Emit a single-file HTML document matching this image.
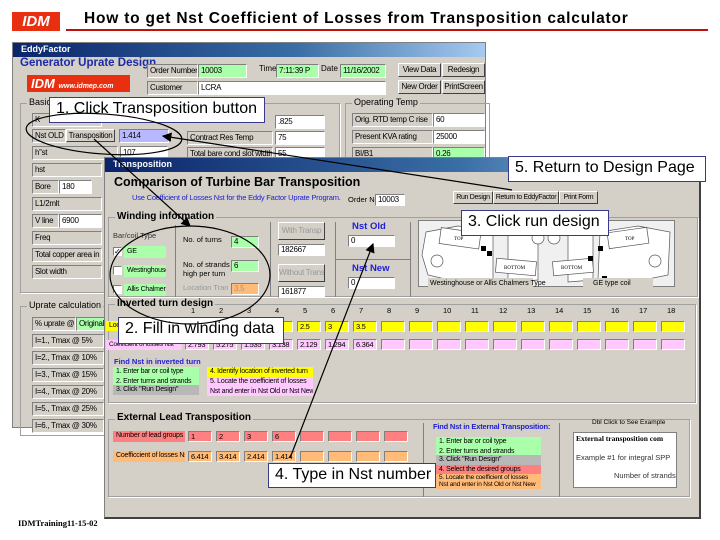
<!DOCTYPE html>
<html><head><meta charset="utf-8"><style>
*{box-sizing:border-box;margin:0;padding:0}
body{width:720px;height:540px;background:#fff;position:relative;overflow:hidden;font-family:"Liberation Sans",sans-serif;}
.a{position:absolute;white-space:nowrap}
.win{position:absolute;background:#d4d0c8;border:1px solid #808080}
.tb{position:absolute;left:0;right:0;top:0;height:14px;background:linear-gradient(90deg,#0a246a,#3a6ea5 60%,#a6caf0);color:#fff;font-size:9px;font-weight:bold;padding:1px 0 0 8px}
.f{position:absolute;font-size:8px;letter-spacing:-0.3px;line-height:12px;height:14px;padding-left:2px;border:1px solid;border-color:#808080 #fff #fff #808080;background:#fff;white-space:nowrap;overflow:hidden;color:#000}
.l{background:#d4d0c8}
.g{background:#aaffaa}
.p{background:#ffc8ff}
.y{background:#ffff00}
.o{background:#ffbb77}
.r{background:#ff8080}
.v{background:#b8b8ff}
.btn{position:absolute;font-size:8px;letter-spacing:-0.3px;line-height:11px;text-align:center;border:1px solid;border-color:#fff #404040 #404040 #fff;background:#d4d0c8;white-space:nowrap;overflow:hidden}
.grp{position:absolute;border:1px solid #a0a0a0;box-shadow:1px 1px 0 #fff}
.gl{position:absolute;top:-7px;left:6px;background:#d4d0c8;font-size:9px;padding:0 2px;color:#000}
.co{position:absolute;background:#fff;border:1px solid #3a3a8a;font-size:16px;padding:2px 6px;white-space:nowrap;color:#000}
.s{font-size:7px;letter-spacing:-0.2px;line-height:9.5px;padding-left:3px;position:absolute;white-space:nowrap;overflow:hidden}
</style></head><body>
<div class="a" style="left:12px;top:12px;width:48px;height:19px;background:#e83010;color:#fff;font:italic bold 15px 'Liberation Sans',sans-serif;text-align:center;line-height:19px">IDM</div>
<div class="a" style="left:84px;top:10px;font-size:15.5px;letter-spacing:0.8px;font-weight:bold">How to get Nst Coefficient of Losses from Transposition calculator</div>
<div class="a" style="left:66px;top:29px;width:642px;height:2px;background:#c01010"></div>

<!-- Eddy window -->
<div class="win" style="left:12px;top:42px;width:474px;height:386px">
<div class="tb">EddyFactor</div>
</div>
<div class="a" style="left:20px;top:57px;font-size:11.5px;font-weight:bold;color:#1a2aa8">Generator Uprate Design</div>
<div class="a" style="left:27px;top:75px;width:103px;height:17px;background:#e83010;color:#fff;font:italic bold 13px 'Liberation Sans';padding-left:4px;line-height:17px">IDM <span style="font-size:7px">www.idmep.com</span></div>
<div class="f l" style="left:147px;top:64px;width:51px">Order Number</div>
<div class="f g" style="left:198px;top:64px;width:49px">10003</div>
<div class="a" style="left:259px;top:64px;font-size:8px">Time</div>
<div class="f g" style="left:276px;top:64px;width:43px">7:11:39 P</div>
<div class="a" style="left:321px;top:64px;font-size:8px">Date</div>
<div class="f g" style="left:340px;top:64px;width:46px">11/16/2002</div>
<div class="f l" style="left:147px;top:81px;width:51px">Customer</div>
<div class="f" style="left:198px;top:81px;width:188px">LCRA</div>
<div class="btn" style="left:398px;top:63px;width:43px;height:14px">View Data</div>
<div class="btn" style="left:442px;top:63px;width:43px;height:14px">Redesign</div>
<div class="btn" style="left:398px;top:80px;width:43px;height:14px">New Order</div>
<div class="btn" style="left:442px;top:80px;width:43px;height:14px">PrintScreen</div>
<div class="grp" style="left:20px;top:103px;width:320px;height:190px"><div class="gl">Basic D</div></div>
<div class="grp" style="left:345px;top:103px;width:145px;height:60px"><div class="gl">Operating Temp</div></div>
<div class="f l" style="left:32px;top:113px;width:70px">K</div>
<div class="f l" style="left:32px;top:129px;width:34px">Nst OLD</div>
<div class="btn" style="left:66px;top:129px;width:49px;height:13px">Transposition</div>
<div class="f v" style="left:119px;top:129px;width:50px">1.414</div>
<div class="f l" style="left:32px;top:146px;width:86px">h''st</div>
<div class="f" style="left:120px;top:146px;width:48px">107</div>
<div class="f l" style="left:32px;top:163px;width:70px">hst</div>
<div class="f l" style="left:32px;top:180px;width:27px">Bore</div>
<div class="f" style="left:59px;top:180px;width:33px">180</div>
<div class="f l" style="left:32px;top:197px;width:70px">L1/2mlt</div>
<div class="f l" style="left:32px;top:214px;width:27px">V line</div>
<div class="f" style="left:59px;top:214px;width:43px">6900</div>
<div class="f l" style="left:32px;top:231px;width:70px">Freq</div>
<div class="f l" style="left:32px;top:248px;width:70px">Total copper area in</div>
<div class="f l" style="left:32px;top:265px;width:70px">Slot width</div>
<div class="f" style="left:275px;top:115px;width:50px">.825</div>
<div class="f l" style="left:187px;top:131px;width:86px">Contract Res Temp</div>
<div class="f" style="left:275px;top:131px;width:50px">75</div>
<div class="f l" style="left:187px;top:147px;width:86px">Total bare cond slot width</div>
<div class="f" style="left:275px;top:147px;width:50px">55</div>
<div class="f l" style="left:352px;top:113px;width:81px">Orig. RTD temp C rise</div>
<div class="f" style="left:433px;top:113px;width:52px">60</div>
<div class="f l" style="left:352px;top:130px;width:81px">Present KVA rating</div>
<div class="f" style="left:433px;top:130px;width:52px">25000</div>
<div class="f l" style="left:352px;top:147px;width:81px">BI/B1</div>
<div class="f g" style="left:433px;top:147px;width:52px">0.26</div>
<div class="grp" style="left:20px;top:306px;width:100px;height:130px"><div class="gl">Uprate calculation</div></div>
<div class="f l" style="left:32px;top:317px;width:44px">% uprate @</div>
<div class="f g" style="left:76px;top:317px;width:30px">Original</div>
<div class="f l" style="left:32px;top:334px;width:72px">I=1., Tmax @ 5%</div>
<div class="f l" style="left:32px;top:351px;width:72px">I=2., Tmax @ 10%</div>
<div class="f l" style="left:32px;top:368px;width:72px">I=3., Tmax @ 15%</div>
<div class="f l" style="left:32px;top:385px;width:72px">I=4., Tmax @ 20%</div>
<div class="f l" style="left:32px;top:402px;width:72px">I=5., Tmax @ 25%</div>
<div class="f l" style="left:32px;top:419px;width:72px">I=6., Tmax @ 30%</div>
<div class="co" style="left:49px;top:97px;width:216px;height:26px">1. Click Transposition button</div>

<!-- Transposition window -->
<div class="win" style="left:104px;top:157px;width:597px;height:362px;border-right:2px solid #404040;border-bottom:2px solid #404040">
<div class="tb">Transposition</div>
</div>
<div class="a" style="left:114px;top:175px;font-size:12.5px;font-weight:bold">Comparison of Turbine Bar Transposition</div>
<div class="a" style="left:132px;top:193px;font-size:7.5px;letter-spacing:-0.2px;color:#2020d0">Use Coefficient of Losses Nst for the Eddy Factor Uprate Program.</div>
<div class="a" style="left:348px;top:195px;font-size:7.5px">Order No</div>
<div class="f" style="left:375px;top:194px;width:30px;height:12px;line-height:10px">10003</div>
<div class="btn" style="left:453px;top:191px;width:40px;height:13px;font-size:7px">Run Design</div>
<div class="btn" style="left:493px;top:191px;width:66px;height:13px;font-size:7px">Return to EddyFactor</div>
<div class="btn" style="left:559px;top:191px;width:39px;height:13px;font-size:7px">Print Form</div>
<div class="grp" style="left:108px;top:217px;width:590px;height:80px"><div class="gl" style="font-weight:bold;font-size:10px">Winding information</div></div>
<div class="a" style="left:175px;top:225px;width:1px;height:72px;background:#808080"></div>
<div class="a" style="left:270px;top:222px;width:1px;height:75px;background:#808080"></div>
<div class="a" style="left:335px;top:222px;width:1px;height:75px;background:#808080"></div>
<div class="a" style="left:410px;top:222px;width:1px;height:75px;background:#808080"></div>
<div class="a" style="left:335px;top:259px;width:75px;height:1px;background:#808080"></div>
<div class="a" style="left:113px;top:231px;font-size:7.5px;color:#333">Bar/coil Type</div>
<div class="f" style="left:113px;top:247px;width:9px;height:9px;padding:0;font-size:8px;line-height:7px">✓</div>
<div class="s g" style="left:124px;top:246px;width:42px;height:12px;line-height:12px">GE</div>
<div class="f" style="left:113px;top:266px;width:9px;height:9px;padding:0"></div>
<div class="s g" style="left:124px;top:265px;width:42px;height:12px;line-height:12px">Westinghouse</div>
<div class="f" style="left:113px;top:285px;width:9px;height:9px;padding:0"></div>
<div class="s g" style="left:124px;top:284px;width:42px;height:12px;line-height:12px">Allis Chalmers</div>
<div class="a" style="left:183px;top:235px;font-size:7.5px">No. of turns</div>
<div class="f g" style="left:231px;top:236px;width:28px;height:12px;line-height:10px">4</div>
<div class="a" style="left:183px;top:260px;font-size:7.5px;line-height:9px">No. of strands<br>high per turn</div>
<div class="f g" style="left:231px;top:260px;width:28px;height:12px;line-height:10px">6</div>
<div class="a" style="left:183px;top:283px;font-size:7.5px;color:#999">Location Tran</div>
<div class="f o" style="left:231px;top:283px;width:28px;height:12px;line-height:10px;color:#999">3.5</div>
<div class="btn" style="left:278px;top:222px;width:47px;height:18px;line-height:16px;color:#999">With Transp</div>
<div class="f" style="left:278px;top:244px;width:47px;height:12px;line-height:10px">182667</div>
<div class="btn" style="left:278px;top:264px;width:47px;height:18px;line-height:16px;color:#999">Without Transp</div>
<div class="f" style="left:278px;top:286px;width:47px;height:12px;line-height:10px">161877</div>
<div class="a" style="left:352px;top:221px;font-size:9.5px;font-weight:bold;color:#2020d0">Nst Old</div>
<div class="f" style="left:348px;top:235px;width:47px;height:12px;line-height:10px">0</div>
<div class="a" style="left:352px;top:263px;font-size:9.5px;font-weight:bold;color:#2020d0">Nst New</div>
<div class="f" style="left:348px;top:277px;width:47px;height:12px;line-height:10px">0</div>
<div class="a" style="left:418px;top:220px;width:257px;height:67px;background:#f0f0f0;border:1px solid #808080"></div>
<svg class="a" style="left:418px;top:220px" width="257" height="67">
<g fill="#fff" stroke="#555" stroke-width="0.7">
<path d="M8 12 L40 6 L75 10 L75 60 L40 62 L10 55 L4 35Z"/>
<path d="M182 12 L220 6 L252 12 L250 55 L215 62 L180 60Z"/>
<path d="M90 10 L120 8 L120 60 L90 62Z"/>
<path d="M150 10 L175 8 L175 60 L150 62Z"/>
<rect x="22" y="10" width="40" height="16" transform="rotate(8 40 18)"/>
<rect x="78" y="40" width="40" height="14" transform="rotate(5 98 47)"/>
<rect x="135" y="40" width="40" height="14" transform="rotate(-5 155 47)"/>
<rect x="190" y="10" width="40" height="16" transform="rotate(-8 210 18)"/>
<circle cx="19" cy="41" r="6"/><circle cx="120" cy="18" r="6"/><circle cx="136" cy="18" r="6"/><circle cx="237" cy="41" r="6"/></g>
<g fill="#000" font-size="5" font-family="Liberation Serif"><text x="36" y="20">TOP</text><text x="86" y="49">BOTTOM</text><text x="143" y="49">BOTTOM</text><text x="207" y="20">TOP</text></g>
<g fill="#000"><rect x="63" y="26" width="5" height="5"/><rect x="56" y="58" width="5" height="5"/><rect x="69" y="31" width="5" height="5"/><rect x="170" y="36" width="5" height="5"/><rect x="180" y="26" width="5" height="5"/><rect x="184" y="56" width="5" height="5"/></g>
<rect x="10" y="58" width="105" height="9" fill="#d4d0c8"/><rect x="165" y="58" width="70" height="9" fill="#d4d0c8"/>
<text x="12" y="65" font-size="7" font-family="Liberation Sans">Westinghouse or Allis Chalmers Type</text>
<text x="175" y="65" font-size="7" font-family="Liberation Sans">GE type coil</text>
</svg>
<div class="co" style="left:461px;top:210px;width:148px;height:26px">3. Click run design</div>
<div class="co" style="left:508px;top:156px;width:198px;height:26px">5. Return to Design Page</div>

<div class="grp" style="left:108px;top:304px;width:588px;height:99px"><div class="gl" style="font-weight:bold;font-size:10px">Inverted turn design</div></div>
<div class="s y" style="left:106px;top:321px;width:40px;height:10px">Loc</div>
<div class="s p" style="left:106px;top:340px;width:76px;height:10px;font-size:6.5px">Coefficient of losses Nst</div>
<div id="cols"></div>
<div class="a" style="left:114px;top:357px;font-size:7.5px;font-weight:bold;color:#2020d0">Find Nst in inverted turn</div>
<div class="s g" style="left:113px;top:367px;width:86px;height:18px">1. Enter bar or coil type<br>2. Enter turns and strands</div>
<div class="s" style="left:113px;top:385px;width:86px;height:10px;background:#b8b8b8">3. Click "Run Design"</div>
<div class="s y" style="left:207px;top:367px;width:106px;height:10px">4. Identify location of inverted turn</div>
<div class="s p" style="left:207px;top:377px;width:106px;height:19px">5. Locate the coefficient of losses<br>Nst and enter in Nst Old or Nst New</div>
<div class="co" style="left:118px;top:317px;width:166px;height:27px">2. Fill in winding data</div>

<div class="grp" style="left:108px;top:419px;width:582px;height:78px"><div class="gl" style="font-weight:bold;font-size:10px;top:-8px">External Lead Transposition</div></div>
<div class="s r" style="left:113px;top:431px;width:72px;height:11px">Number of lead groups</div>
<div class="s o" style="left:113px;top:451px;width:72px;height:11px">Coefficcient of losses Nst</div>
<div class="a" style="left:423px;top:423px;width:1px;height:74px;background:#808080"></div>
<div class="a" style="left:559px;top:423px;width:1px;height:74px;background:#808080"></div>
<div class="a" style="left:433px;top:422px;font-size:7.5px;letter-spacing:-0.2px;font-weight:bold;color:#2020d0">Find Nst in External Transposition:</div>
<div class="s g" style="left:436px;top:437px;width:105px;height:18px">1. Enter bar or coil type<br>2. Enter turns and strands</div>
<div class="s" style="left:436px;top:455px;width:105px;height:10px;background:#b8b8b8">3. Click "Run Design"</div>
<div class="s r" style="left:436px;top:465px;width:105px;height:9px">4. Select the desired groups</div>
<div class="s o" style="left:436px;top:474px;width:105px;height:15px;line-height:7px;font-size:6.5px">5. Locate the coefficient of losses<br>Nst and enter in Nst Old or Nst New</div>
<div class="a" style="left:592px;top:419px;font-size:6.5px">Dbl Click to See Example</div>
<div class="a" style="left:573px;top:432px;width:104px;height:56px;background:#fff;border:1px solid #808080;overflow:hidden;font-size:7.5px">
<div style="font-family:'Liberation Serif';font-weight:bold;padding:1px 2px">External transposition com</div>
<div style="padding:9px 2px 0;color:#333">Example #1 for integral SPP</div>
<div style="padding:9px 0 0 40px;color:#333">Number of strands</div></div>
<div class="co" style="left:268px;top:463px;width:168px;height:25px">4. Type in Nst number</div>
<div class="a" style="left:18px;top:518px;font-family:'Liberation Serif';font-size:8.5px;font-weight:bold">IDMTraining11-15-02</div>

<svg class="a" style="left:0;top:0" width="720" height="540">
<defs><marker id="ar" markerWidth="8" markerHeight="8" refX="7" refY="4" orient="auto"><path d="M0,0 L8,4 L0,8Z" fill="#000"/></marker></defs>
<g fill="none" stroke="#000" stroke-width="1.2">
<ellipse cx="104" cy="134" rx="78" ry="20" transform="rotate(4 104 134)"/>
<ellipse cx="190" cy="275" rx="80" ry="49"/>
<line x1="94" y1="139" x2="190" y2="226" marker-end="url(#ar)"/>
<line x1="512" y1="190" x2="163" y2="136" marker-end="url(#ar)"/>
<line x1="290" y1="458" x2="373" y2="244" marker-end="url(#ar)"/>
</g></svg>
<script>
var c=document.getElementById('cols'),h='';
var loc=['','','','','2.5','3','3.5'],co=['2.793','5.275','1.535','3.138','2.129','1.294','6.364'];
for(var i=0;i<18;i++){var x=185+i*28;
h+='<div class="a" style="left:'+(x+6)+'px;top:306px;font-size:7.5px">'+(i+1)+'</div>';
h+='<div class="f y" style="left:'+x+'px;top:321px;width:24px;height:11px;font-size:7.5px;line-height:9px">'+(loc[i]||'')+'</div>';
h+='<div class="f p" style="left:'+x+'px;top:339px;width:24px;height:11px;font-size:7.5px;line-height:9px">'+(co[i]||'')+'</div>';}
var ln=['1','2','3','6'],lc=['6.414','3.414','2.414','1.414'];
for(var j=0;j<8;j++){var x=188+j*28;
h+='<div class="f r" style="left:'+x+'px;top:431px;width:24px;height:11px;font-size:7.5px;line-height:9px">'+(ln[j]||'')+'</div>';
h+='<div class="f o" style="left:'+x+'px;top:451px;width:24px;height:11px;font-size:7.5px;line-height:9px">'+(lc[j]||'')+'</div>';}
c.innerHTML=h;
</script>
</body></html>
